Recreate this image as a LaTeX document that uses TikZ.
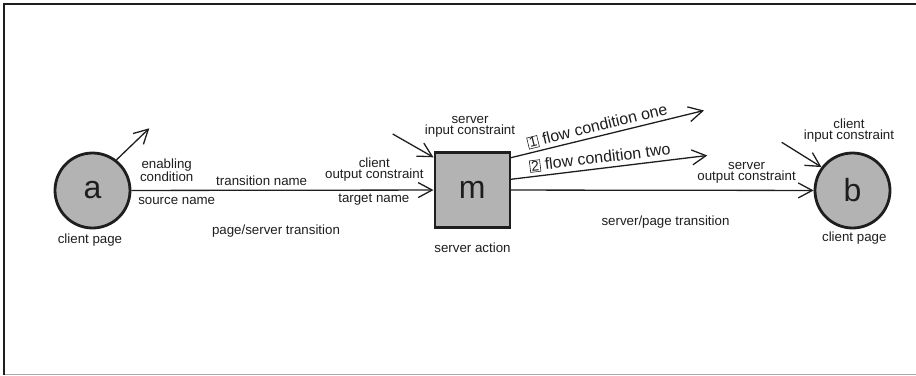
\documentclass[tikz,border=0pt]{standalone}
\usepackage{fontspec}
\setmainfont{Liberation Sans}
\usetikzlibrary{arrows.meta}
\definecolor{ink}{HTML}{1E1E1E}
\definecolor{nodefill}{HTML}{B3B3B3}
\definecolor{framegray}{HTML}{AAAAAA}
\newcommand\numbox[1]{{\fontsize{14}{16}\selectfont\setlength{\fboxsep}{0.6pt}\setlength{\fboxrule}{0.6pt}\fbox{\makebox[8.5pt]{#1}}}}
\begin{document}
\begin{tikzpicture}[x=1pt,y=-1pt,
  lbl/.style={inner sep=0pt, font=\fontsize{13.3}{11}\selectfont, text=ink, align=center},
  flowlbl/.style={inner sep=0pt, font=\fontsize{16}{18}\selectfont, text=ink},
  big/.style={font=\fontsize{32}{36}\selectfont, text=ink},
  page/.style={circle, draw=ink, line width=2.8pt, fill=nodefill, minimum size=75pt, inner sep=0pt, big},
  action/.style={rectangle, draw=ink, line width=2.4pt, fill=nodefill, minimum size=75pt, inner sep=0pt, big},
  conn/.style={draw=ink, line width=1.3pt, -{Straight Barb[length=14pt,width=15pt]}},
]
\useasboundingbox (0,0) rectangle (916,375);
% frame
\draw[framegray, line width=1.2pt] (4.3,374.5) -- (916,374.5);
\draw[ink, line width=1.8pt] (4.3,374.5) -- (4.3,3.7) -- (916,3.7);

% nodes
\node[page] (a) at (92.5,190.5) {a};
\node[action] (m) at (472.2,190) {m};
\node[page] (b) at (852.5,190.5) {b};

% free ends
\coordinate (ecEnd) at (149.3,128.3);
\coordinate (sicStart) at (392.7,134);
\coordinate (f1End) at (704,110.5);
\coordinate (f2End) at (707.3,155.5);
\coordinate (cicStart) at (781.7,142.3);

% connectors
\draw[conn] (a) -- (m);
\draw[conn] (m) -- (b);
\draw[conn] (a.52) -- (ecEnd);
\draw[conn] (sicStart) -- ([yshift=-6pt]m.north west);
\draw[conn] (cicStart) -- (b.143);
\draw[conn] ([yshift=-6.4pt]m.north east) -- node[flowlbl, sloped, above=3pt, pos=0.46] (fc1) {\numbox{1} flow condition one} (f1End);
\draw[conn] ([yshift=10.7pt]m.east) -- node[flowlbl, sloped, above=3.5pt, pos=0.46] (fc2) {\numbox{2} flow condition two} (f2End);

% labels
\node[lbl] (ecLbl) at (166.7,170.5) {enabling\\condition};
\node[lbl] (tnLbl) at (261.7,180.5) {transition name};
\node[lbl] (snLbl) at (176.7,200.8) {source name};
\node[lbl] (cocLbl) at (374.3,169.2) {client\\output constraint};
\node[lbl] (tgLbl) at (373.8,200) {target name};
\node[lbl] (sicLbl) at (470,126.4) {server\\input constraint};
\node[lbl] (saLbl) at (472.5,248) {server action};
\node[lbl] (socLbl) at (746.6,173) {server\\output constraint};
\node[lbl] (cicLbl) at (849,131) {client\\input constraint};
\node[lbl] (cpaLbl) at (90,240) {client page};
\node[lbl] (cpbLbl) at (854.3,238.3) {client page};
\node[lbl] (pstLbl) at (276,231.5) {page/server transition};
\node[lbl] (sptLbl) at (665.5,222.5) {server/page transition};
\end{tikzpicture}
\end{document}
